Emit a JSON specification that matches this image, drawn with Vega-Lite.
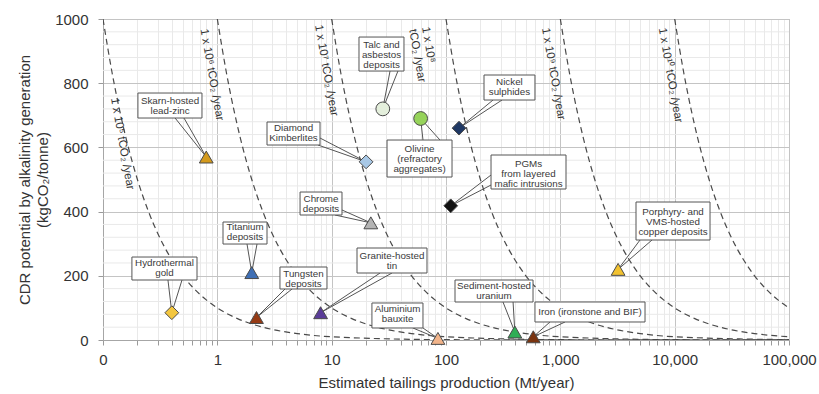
{
  "$schema": "https://vega.github.io/schema/vega-lite/v6.json",
  "width": 686,
  "height": 321,
  "autosize": {"type": "none"},
  "padding": {"left": 103, "top": 19, "right": 30, "bottom": 54},
  "background": "white",
  "config": {
    "font": "Liberation Sans",
    "view": {"stroke": "#a6a6a6", "strokeWidth": 1},
    "axis": {"labelOverlap": false, "labelFlush": false}
  },
  "datasets": {
    "ygrid": [{"v":40},{"v":80},{"v":120},{"v":160},{"v":240},{"v":280},{"v":320},{"v":360},{"v":440},{"v":480},{"v":520},{"v":560},{"v":640},{"v":680},{"v":720},{"v":760},{"v":840},{"v":880},{"v":920},{"v":960}],
    "curves": [
      {"c":"1e5","x":0.1,"y":1000},{"c":"1e5","x":0.12,"y":833.3},{"c":"1e5","x":0.14,"y":714.3},{"c":"1e5","x":0.16,"y":625},{"c":"1e5","x":0.18,"y":555.6},{"c":"1e5","x":0.2,"y":500},{"c":"1e5","x":0.25,"y":400},{"c":"1e5","x":0.3,"y":333.3},{"c":"1e5","x":0.35,"y":285.7},{"c":"1e5","x":0.4,"y":250},{"c":"1e5","x":0.5,"y":200},{"c":"1e5","x":0.6,"y":166.7},{"c":"1e5","x":0.7,"y":142.9},{"c":"1e5","x":0.8,"y":125},{"c":"1e5","x":1,"y":100},{"c":"1e5","x":1.2,"y":83.3},{"c":"1e5","x":1.5,"y":66.7},{"c":"1e5","x":2,"y":50},{"c":"1e5","x":3,"y":33.3},{"c":"1e5","x":5,"y":20},{"c":"1e5","x":10,"y":10},{"c":"1e5","x":100,"y":1},{"c":"1e5","x":1000,"y":0.1},{"c":"1e5","x":10000,"y":0.01},{"c":"1e5","x":100000,"y":0.001},
      {"c":"1e6","x":1,"y":1000},{"c":"1e6","x":1.2,"y":833.3},{"c":"1e6","x":1.4,"y":714.3},{"c":"1e6","x":1.6,"y":625},{"c":"1e6","x":1.8,"y":555.6},{"c":"1e6","x":2,"y":500},{"c":"1e6","x":2.5,"y":400},{"c":"1e6","x":3,"y":333.3},{"c":"1e6","x":3.5,"y":285.7},{"c":"1e6","x":4,"y":250},{"c":"1e6","x":5,"y":200},{"c":"1e6","x":6,"y":166.7},{"c":"1e6","x":7,"y":142.9},{"c":"1e6","x":8,"y":125},{"c":"1e6","x":10,"y":100},{"c":"1e6","x":12,"y":83.3},{"c":"1e6","x":15,"y":66.7},{"c":"1e6","x":20,"y":50},{"c":"1e6","x":30,"y":33.3},{"c":"1e6","x":50,"y":20},{"c":"1e6","x":100,"y":10},{"c":"1e6","x":1000,"y":1},{"c":"1e6","x":10000,"y":0.1},{"c":"1e6","x":100000,"y":0.01},
      {"c":"1e7","x":10,"y":1000},{"c":"1e7","x":12,"y":833.3},{"c":"1e7","x":14,"y":714.3},{"c":"1e7","x":16,"y":625},{"c":"1e7","x":18,"y":555.6},{"c":"1e7","x":20,"y":500},{"c":"1e7","x":25,"y":400},{"c":"1e7","x":30,"y":333.3},{"c":"1e7","x":35,"y":285.7},{"c":"1e7","x":40,"y":250},{"c":"1e7","x":50,"y":200},{"c":"1e7","x":60,"y":166.7},{"c":"1e7","x":70,"y":142.9},{"c":"1e7","x":80,"y":125},{"c":"1e7","x":100,"y":100},{"c":"1e7","x":120,"y":83.3},{"c":"1e7","x":150,"y":66.7},{"c":"1e7","x":200,"y":50},{"c":"1e7","x":300,"y":33.3},{"c":"1e7","x":500,"y":20},{"c":"1e7","x":1000,"y":10},{"c":"1e7","x":10000,"y":1},{"c":"1e7","x":100000,"y":0.1},
      {"c":"1e8","x":100,"y":1000},{"c":"1e8","x":120,"y":833.3},{"c":"1e8","x":140,"y":714.3},{"c":"1e8","x":160,"y":625},{"c":"1e8","x":180,"y":555.6},{"c":"1e8","x":200,"y":500},{"c":"1e8","x":250,"y":400},{"c":"1e8","x":300,"y":333.3},{"c":"1e8","x":350,"y":285.7},{"c":"1e8","x":400,"y":250},{"c":"1e8","x":500,"y":200},{"c":"1e8","x":600,"y":166.7},{"c":"1e8","x":700,"y":142.9},{"c":"1e8","x":800,"y":125},{"c":"1e8","x":1000,"y":100},{"c":"1e8","x":1200,"y":83.3},{"c":"1e8","x":1500,"y":66.7},{"c":"1e8","x":2000,"y":50},{"c":"1e8","x":3000,"y":33.3},{"c":"1e8","x":5000,"y":20},{"c":"1e8","x":10000,"y":10},{"c":"1e8","x":100000,"y":1},
      {"c":"1e9","x":1000,"y":1000},{"c":"1e9","x":1200,"y":833.3},{"c":"1e9","x":1400,"y":714.3},{"c":"1e9","x":1600,"y":625},{"c":"1e9","x":1800,"y":555.6},{"c":"1e9","x":2000,"y":500},{"c":"1e9","x":2500,"y":400},{"c":"1e9","x":3000,"y":333.3},{"c":"1e9","x":3500,"y":285.7},{"c":"1e9","x":4000,"y":250},{"c":"1e9","x":5000,"y":200},{"c":"1e9","x":6000,"y":166.7},{"c":"1e9","x":7000,"y":142.9},{"c":"1e9","x":8000,"y":125},{"c":"1e9","x":10000,"y":100},{"c":"1e9","x":12000,"y":83.3},{"c":"1e9","x":15000,"y":66.7},{"c":"1e9","x":20000,"y":50},{"c":"1e9","x":30000,"y":33.3},{"c":"1e9","x":50000,"y":20},{"c":"1e9","x":100000,"y":10},
      {"c":"1e10","x":10000,"y":1000},{"c":"1e10","x":12000,"y":833.3},{"c":"1e10","x":14000,"y":714.3},{"c":"1e10","x":16000,"y":625},{"c":"1e10","x":18000,"y":555.6},{"c":"1e10","x":20000,"y":500},{"c":"1e10","x":25000,"y":400},{"c":"1e10","x":30000,"y":333.3},{"c":"1e10","x":35000,"y":285.7},{"c":"1e10","x":40000,"y":250},{"c":"1e10","x":50000,"y":200},{"c":"1e10","x":60000,"y":166.7},{"c":"1e10","x":70000,"y":142.9},{"c":"1e10","x":80000,"y":125},{"c":"1e10","x":100000,"y":100}
    ],
    "curvelabels": [
      {"text":"1 x 10⁵ tCO₂ /year","x":0.1248,"y":753.8},
      {"text":"1 x 10⁶ tCO₂ /year","x":0.757,"y":968.8},
      {"text":"1 x 10⁷ tCO₂ /year","x":7.6,"y":981.2},
      {"text":"1 x 10⁸\ntCO₂ /year","x":65.5,"y":975},
      {"text":"1 x 10⁹ tCO₂ /year","x":734.5,"y":971.9},
      {"text":"1 x 10¹⁰ tCO₂ /year","x":7703,"y":971.9}
    ],
    "points": [
      {"name":"Hydrothermal gold","x":0.4,"y":85},
      {"name":"Skarn-hosted lead-zinc","x":0.8,"y":570},
      {"name":"Titanium deposits","x":2,"y":210},
      {"name":"Tungsten deposits","x":2.2,"y":70},
      {"name":"Granite-hosted tin","x":8,"y":85},
      {"name":"Chrome deposits","x":22,"y":365},
      {"name":"Diamond Kimberlites","x":20,"y":555},
      {"name":"Talc and asbestos deposits","x":28,"y":720},
      {"name":"Olivine","x":60,"y":690},
      {"name":"Nickel sulphides","x":130,"y":660},
      {"name":"PGMs","x":110,"y":418},
      {"name":"Aluminium bauxite","x":85,"y":5},
      {"name":"Sediment-hosted uranium","x":400,"y":25},
      {"name":"Iron","x":580,"y":10},
      {"name":"Porphyry copper","x":3200,"y":220}
    ],
    "boxes": [
      {"name":"Skarn-hosted lead-zinc","x":0.202,"xe":0.734,"y":691.5,"ye":769.4,"tx":0.386,"ty":746.0,"label":"Skarn-hosted\nlead-zinc"},
      {"name":"Hydrothermal gold","x":0.179,"xe":0.664,"y":186.9,"ye":258.5,"tx":0.345,"ty":238.9,"label":"Hydrothermal\ngold"},
      {"name":"Titanium deposits","x":1.121,"xe":2.719,"y":299,"ye":367.6,"tx":1.746,"ty":351.1,"label":"Titanium\ndeposits"},
      {"name":"Tungsten deposits","x":3.53,"xe":9.1,"y":158.9,"ye":227.4,"tx":5.67,"ty":205.6,"label":"Tungsten\ndeposits"},
      {"name":"Granite-hosted tin","x":16.66,"xe":68.2,"y":208.7,"ye":286.6,"tx":33.7,"ty":262.6,"label":"Granite-hosted\ntin"},
      {"name":"Chrome deposits","x":5.29,"xe":12.31,"y":389.4,"ye":461,"tx":8.07,"ty":440.8,"label":"Chrome\ndeposits"},
      {"name":"Diamond Kimberlites","x":2.719,"xe":7.91,"y":607.4,"ye":679.1,"tx":4.64,"ty":660.4,"label":"Diamond\nKimberlites"},
      {"name":"Talc and asbestos deposits","x":17.34,"xe":42.9,"y":837.9,"ye":943.8,"tx":27.3,"ty":918.9,"label":"Talc and\nasbestos\ndeposits"},
      {"name":"Olivine","x":30.5,"xe":112.9,"y":507.7,"ye":623,"tx":58.7,"ty":595.0,"label":"Olivine\n(refractory\naggregates)"},
      {"name":"Nickel sulphides","x":215,"xe":600,"y":747.6,"ye":825.5,"tx":359,"ty":802.7,"label":"Nickel\nsulphides"},
      {"name":"PGMs","x":247.6,"xe":1121,"y":470.4,"ye":576.3,"tx":527,"ty":548.2,"label":"PGMs\nfrom layered\nmafic intrusions"},
      {"name":"Aluminium bauxite","x":22.5,"xe":62.9,"y":37.4,"ye":115.3,"tx":37.7,"ty":95.6,"label":"Aluminium\nbauxite"},
      {"name":"Sediment-hosted uranium","x":119.9,"xe":577,"y":118.4,"ye":186.9,"tx":263,"ty":169.1,"label":"Sediment-hosted\nuranium"},
      {"name":"Iron","x":600,"xe":5504,"y":56.1,"ye":118.4,"tx":1818,"ty":87.2,"label":"Iron (ironstone and BIF)"},
      {"name":"Porphyry copper","x":4591,"xe":20380,"y":311.5,"ye":429.9,"tx":9672,"ty":399.7,"label":"Porphyry- and\nVMS-hosted\ncopper deposits"}
    ],
    "callouts": [
      {"name":"Skarn","o":1,"x":0.427,"y":691.5},{"name":"Skarn","o":2,"x":0.8,"y":570},{"name":"Skarn","o":3,"x":0.511,"y":691.5},
      {"name":"Gold","o":1,"x":0.37,"y":186.9},{"name":"Gold","o":2,"x":0.4,"y":85},{"name":"Gold","o":3,"x":0.491,"y":186.9},
      {"name":"Titanium","o":1,"x":1.818,"y":299},{"name":"Titanium","o":2,"x":2,"y":210},{"name":"Titanium","o":3,"x":2.223,"y":299},
      {"name":"Tungsten","o":1,"x":3.91,"y":158.9},{"name":"Tungsten","o":2,"x":2.2,"y":70},{"name":"Tungsten","o":3,"x":4.5,"y":158.9},
      {"name":"Tin","o":1,"x":26.5,"y":208.7},{"name":"Tin","o":2,"x":8,"y":85},{"name":"Tin","o":3,"x":33.7,"y":208.7},
      {"name":"Chrome","o":1,"x":10.7,"y":389.4},{"name":"Chrome","o":2,"x":22,"y":365},{"name":"Chrome","o":3,"x":12.31,"y":405},
      {"name":"Diamond","o":1,"x":7.6,"y":607.4},{"name":"Diamond","o":2,"x":20,"y":555},{"name":"Diamond","o":3,"x":7.91,"y":629.2},
      {"name":"Talc","o":1,"x":32.4,"y":837.9},{"name":"Talc","o":2,"x":28,"y":720},{"name":"Talc","o":3,"x":38,"y":837.9},
      {"name":"Olivine","o":1,"x":62.9,"y":623},{"name":"Olivine","o":2,"x":60,"y":690},{"name":"Olivine","o":3,"x":88.6,"y":623},
      {"name":"Nickel","o":1,"x":257.8,"y":747.6},{"name":"Nickel","o":2,"x":130,"y":660},{"name":"Nickel","o":3,"x":309,"y":747.6},
      {"name":"PGM","o":1,"x":247.6,"y":514},{"name":"PGM","o":2,"x":110,"y":418},{"name":"PGM","o":3,"x":247.6,"y":482.8},
      {"name":"Bauxite","o":1,"x":51.4,"y":37.4},{"name":"Bauxite","o":2,"x":85,"y":5},{"name":"Bauxite","o":3,"x":62.9,"y":37.4},
      {"name":"Uranium","o":1,"x":315,"y":118.4},{"name":"Uranium","o":2,"x":400,"y":25},{"name":"Uranium","o":3,"x":386,"y":118.4},
      {"name":"Iron","o":1,"x":812,"y":56.1},{"name":"Iron","o":2,"x":580,"y":10},{"name":"Iron","o":3,"x":1099,"y":56.1},
      {"name":"Copper","o":1,"x":4977,"y":311.5},{"name":"Copper","o":2,"x":3200,"y":220},{"name":"Copper","o":3,"x":6337,"y":311.5}
    ]
  },
  "layer": [
    {
      "data": {"name": "ygrid"},
      "mark": {"type": "rule", "stroke": "#e9e9e9", "strokeWidth": 1},
      "encoding": {
        "y": {"field": "v", "type": "quantitative"}
      }
    },
    {
      "data": {"name": "curves"},
      "mark": {"type": "line", "stroke": "#4a4a4a", "strokeWidth": 1.2, "strokeDash": [6, 4], "interpolate": "monotone", "clip": true},
      "encoding": {
        "x": {
          "field": "x", "type": "quantitative",
          "scale": {"type": "log", "domain": [0.1, 100000], "nice": false},
          "axis": {
            "values": [0.1,0.2,0.3,0.4,0.5,0.6,0.7,0.8,0.9,1,2,3,4,5,6,7,8,9,10,20,30,40,50,60,70,80,90,100,200,300,400,500,600,700,800,900,1000,2000,3000,4000,5000,6000,7000,8000,9000,10000,20000,30000,40000,50000,60000,70000,80000,90000,100000],
            "labelExpr": "abs(log(datum.value)/LN10 - round(log(datum.value)/LN10)) < 0.01 ? (datum.value < 0.5 ? '0' : format(datum.value, ',')) : ''",
            "labelFontSize": 15, "labelColor": "#333333", "labelPadding": 7, "labelOverlap": false, "labelFlush": false,
            "tickSize": 5, "tickColor": "#9a9a9a", "domainColor": "#a6a6a6",
            "grid": true,
            "gridColor": {"condition": {"test": "abs(log(datum.value)/LN10 - round(log(datum.value)/LN10)) < 0.01", "value": "#c4c4c4"}, "value": "#e9e9e9"},
            "title": "Estimated tailings production (Mt/year)",
            "titleFontSize": 15, "titleFontWeight": "normal", "titleColor": "#333333", "titlePadding": 8
          }
        },
        "y": {
          "field": "y", "type": "quantitative",
          "scale": {"domain": [0, 1000], "nice": false},
          "axis": {
            "values": [0, 200, 400, 600, 800, 1000],
            "format": "d",
            "labelFontSize": 15, "labelColor": "#333333", "labelPadding": 10, "labelOverlap": false,
            "tickSize": 5, "tickColor": "#9a9a9a", "domainColor": "#a6a6a6",
            "grid": true, "gridColor": "#c4c4c4",
            "title": ["CDR potential by alkalinity generation", "(kgCO₂/tonne)"],
            "titleFontSize": 15, "titleFontWeight": "normal", "titleColor": "#333333", "titlePadding": 4, "titleLineHeight": 18
          }
        },
        "detail": {"field": "c"},
        "order": {"field": "x", "type": "quantitative"}
      }
    },
    {
      "data": {"name": "callouts"},
      "mark": {"type": "line", "stroke": "#555555", "strokeWidth": 1},
      "encoding": {
        "x": {"field": "x", "type": "quantitative"},
        "y": {"field": "y", "type": "quantitative"},
        "detail": {"field": "name"},
        "order": {"field": "o", "type": "quantitative"}
      }
    },
    {
      "data": {"name": "boxes"},
      "mark": {"type": "rect", "fill": "white", "stroke": "#555555", "strokeWidth": 1},
      "encoding": {
        "x": {"field": "x", "type": "quantitative"},
        "x2": {"field": "xe"},
        "y": {"field": "y", "type": "quantitative"},
        "y2": {"field": "ye"}
      }
    },
    {
      "data": {"name": "boxes"},
      "mark": {"type": "text", "fontSize": 9.8, "fill": "#3a3a3a", "align": "center", "baseline": "middle", "lineBreak": "\n", "lineHeight": 10},
      "encoding": {
        "x": {"field": "tx", "type": "quantitative"},
        "y": {"field": "ty", "type": "quantitative"},
        "text": {"field": "label"}
      }
    },
    {
      "data": {"name": "points"},
      "mark": {"type": "point", "filled": true, "size": 190, "stroke": "#4a4a4a", "strokeWidth": 1, "opacity": 1},
      "encoding": {
        "x": {"field": "x", "type": "quantitative"},
        "y": {"field": "y", "type": "quantitative"},
        "color": {
          "field": "name", "type": "nominal", "legend": null,
          "scale": {
            "domain": ["Hydrothermal gold","Skarn-hosted lead-zinc","Titanium deposits","Tungsten deposits","Granite-hosted tin","Chrome deposits","Diamond Kimberlites","Talc and asbestos deposits","Olivine","Nickel sulphides","PGMs","Aluminium bauxite","Sediment-hosted uranium","Iron","Porphyry copper"],
            "range": ["#f3c63f","#d49a1c","#3f6fb5","#953a14","#5a3c98","#b4b4b4","#a8c8e6","#e4efdc","#96d35a","#1f3864","#111111","#f2b48a","#2fae55","#7a3410","#f2c230"]
          }
        },
        "shape": {
          "field": "name", "type": "nominal", "legend": null,
          "scale": {
            "domain": ["Hydrothermal gold","Skarn-hosted lead-zinc","Titanium deposits","Tungsten deposits","Granite-hosted tin","Chrome deposits","Diamond Kimberlites","Talc and asbestos deposits","Olivine","Nickel sulphides","PGMs","Aluminium bauxite","Sediment-hosted uranium","Iron","Porphyry copper"],
            "range": ["diamond","triangle-up","triangle-up","triangle-up","triangle-up","triangle-up","diamond","circle","circle","diamond","diamond","triangle-up","triangle-up","triangle-up","triangle-up"]
          }
        }
      }
    },
    {
      "data": {"name": "curvelabels"},
      "mark": {"type": "text", "fontSize": 11.5, "fill": "#333333", "angle": 80, "align": "left", "baseline": "middle", "lineBreak": "\n", "lineHeight": 13},
      "encoding": {
        "x": {"field": "x", "type": "quantitative"},
        "y": {"field": "y", "type": "quantitative"},
        "text": {"field": "text"}
      }
    }
  ]
}
